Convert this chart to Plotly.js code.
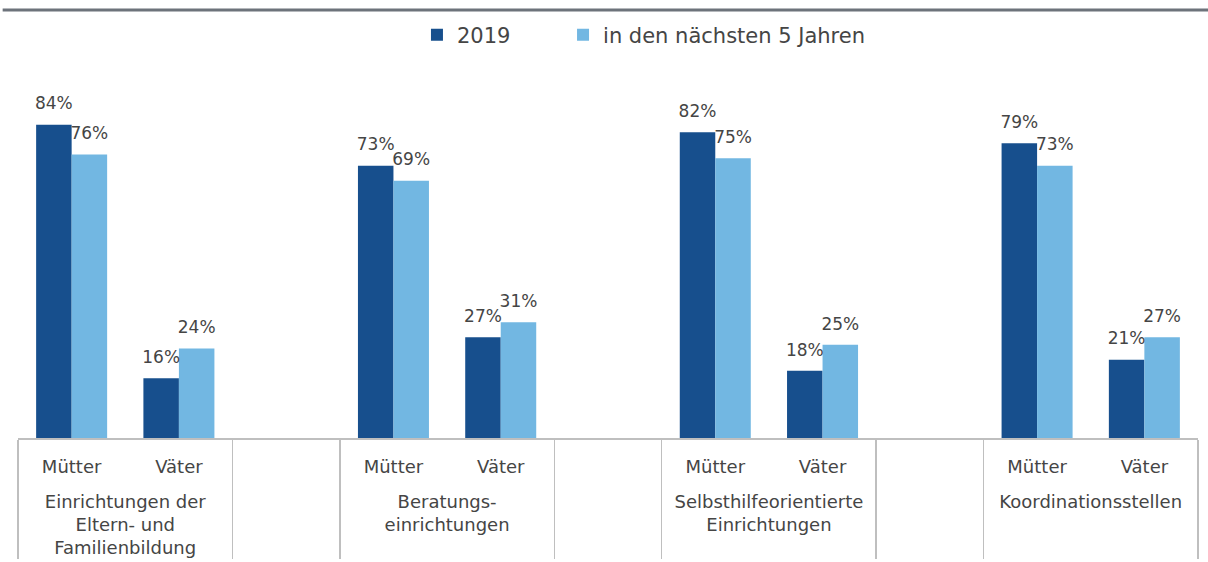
<!DOCTYPE html>
<html><head><meta charset="utf-8">
<script src="https://cdn.plot.ly/plotly-3.0.1.min.js"></script>
<style>html,body{margin:0;padding:0;background:#fff}#c{width:1208px;height:562px}</style>
</head><body><div id="c"></div>
<script>
const groups = ["Einrichtungen der<br>Eltern- und<br>Familienbildung", "Beratungs-<br>einrichtungen", "Selbsthilfeorientierte<br>Einrichtungen", "Koordinationsstellen"];
const subcats = ["Mütter", "Väter"];
const series2019 = [84, 16, 73, 27, 82, 18, 79, 21];
const seriesNext5 = [76, 24, 69, 31, 75, 25, 73, 27];
const seriesNames = ["2019", "in den nächsten 5 Jahren"];

// build multicategory x with blank spacer slots between groups
const lvl0 = [], lvl1 = [], v1 = [], v2 = [];
groups.forEach((g, gi) => {
  subcats.forEach((s, si) => {
    lvl0.push("<br>" + g); lvl1.push(s);
    v1.push(series2019[gi * 2 + si]); v2.push(seriesNext5[gi * 2 + si]);
  });
  if (gi < groups.length - 1) {
    const blank = " ".repeat(gi + 1);
    lvl0.push(blank); lvl1.push(" "); v1.push(null); v2.push(null);
  }
});

const font = "DejaVu Sans, Verdana, sans-serif";
const txtColor = "#454545";
const colors = ["#174f8d", "#72b7e2"];
const legendIds = ["legend", "legend2"];
const vals = [v1, v2];
const traces = [];
vals.forEach((v, i) => {
  traces.push({type: "bar", name: seriesNames[i], x: [lvl0, lvl1], y: v, legend: legendIds[i],
    marker: {color: colors[i]}, hoverinfo: "skip", offsetgroup: String(i)});
});
vals.forEach((v, i) => {
  traces.push({type: "scatter", mode: "markers+text", showlegend: false,
    x: [lvl0, lvl1], y: v, offsetgroup: String(i),
    marker: {size: 16, color: "rgba(0,0,0,0)"},
    text: v.map(t => t == null ? "" : t + "%"), textposition: "top center",
    textfont: {family: font, size: 17, color: txtColor},
    cliponaxis: false, hoverinfo: "skip"});
});

const legendBase = {orientation: "h", xanchor: "left", y: 1.08, yanchor: "middle",
  font: {family: font, size: 21, color: txtColor}, bgcolor: "rgba(0,0,0,0)"};
const layout = {
  width: 1208, height: 562,
  margin: {l: 18, r: 10, t: 65, b: 124},
  paper_bgcolor: "#fff", plot_bgcolor: "#fff",
  font: {family: font, size: 18, color: txtColor},
  barmode: "group", bargap: 0.338, bargroupgap: 0,
  scattermode: "group", scattergap: 0.338,
  showlegend: true,
  legend: Object.assign({}, legendBase, {x: 0.3381}),
  legend2: Object.assign({}, legendBase, {x: 0.4619}),
  xaxis: {type: "multicategory", showline: true, linecolor: "#bfbfbf", linewidth: 1.5,
          showdividers: true, dividercolor: "#bfbfbf", dividerwidth: 1.5,
          ticks: "", ticklabelstandoff: 12,
          tickfont: {family: font, size: 18, color: txtColor},
          automargin: false, fixedrange: true},
  yaxis: {range: [0, 100], visible: false, showgrid: false, zeroline: false, fixedrange: true},
  shapes: [{type: "line", xref: "paper", yref: "paper", x0: -0.013, x1: 1.01, y0: 1.1475, y1: 1.1475,
            line: {color: "#6d737b", width: 3}}]
};
Plotly.newPlot("c", traces, layout, {displayModeBar: false, staticPlot: true});
</script></body></html>
